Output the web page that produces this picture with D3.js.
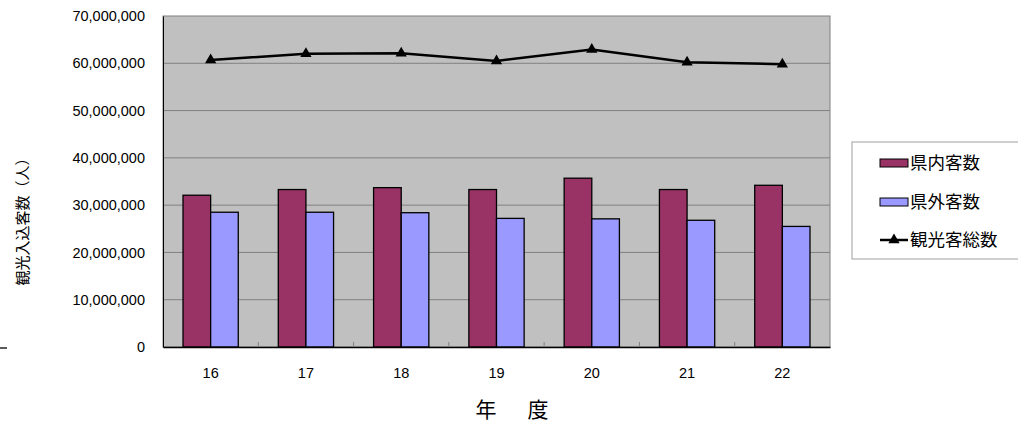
<!DOCTYPE html>
<html lang="ja">
<head>
  <meta charset="UTF-8">
  <title>観光入込客数</title>
  <style>
    body { margin: 0; background: #fff; }
    svg { display: block; font-family: "Liberation Sans", Arial, sans-serif; }
    .jp { font-family: "Noto Sans CJK JP", sans-serif; }
  </style>
</head>
<body>
  <svg id="chart" width="1018" height="423"></svg>
  <script src="https://d3js.org/d3.v7.min.js"></script>
  <script>
    const years = ['16', '17', '18', '19', '20', '21', '22'];
    const inPref = [32100000, 33300000, 33700000, 33300000, 35700000, 33300000, 34200000];
    const outPref = [28500000, 28500000, 28400000, 27200000, 27100000, 26800000, 25500000];
    const totals = [60700000, 62000000, 62100000, 60500000, 62900000, 60200000, 59800000];
    const yTicks = [0, 10000000, 20000000, 30000000, 40000000, 50000000, 60000000, 70000000];
    const seriesNames = ['県内客数', '県外客数', '観光客総数'];

    const margin = { top: 16, right: 188, bottom: 76, left: 163 };
    const width = 1018 - margin.left - margin.right;
    const height = 423 - margin.top - margin.bottom;

    const svg = d3.select('#chart');
    const g = svg.append('g')
      .attr('transform', `translate(${margin.left}, ${margin.top})`);

    const xScale = d3.scaleBand()
      .domain(years)
      .range([0, width]);

    const xInner = d3.scaleBand()
      .domain(['in', 'out'])
      .range([0, xScale.bandwidth() * 0.58])
      .padding(0);

    const yScale = d3.scaleLinear()
      .domain([0, 70000000])
      .range([height, 0]);

    // plot background
    g.append('rect')
      .attr('width', width)
      .attr('height', height)
      .attr('fill', '#c0c0c0')
      .attr('stroke', '#808080');

    // gridlines
    g.selectAll('.grid')
      .data(yTicks.slice(1, -1))
      .enter()
      .append('line')
      .attr('x1', 0)
      .attr('x2', width)
      .attr('y1', d => yScale(d))
      .attr('y2', d => yScale(d))
      .attr('stroke', '#808080');

    const offset = (xScale.bandwidth() - xInner.range()[1]) / 2;

    const groups = g.selectAll('.group')
      .data(years)
      .enter()
      .append('g')
      .attr('transform', d => `translate(${xScale(d) + offset}, 0)`);

    groups.append('rect')
      .attr('x', xInner('in'))
      .attr('width', xInner.bandwidth())
      .attr('y', (d, i) => yScale(inPref[i]))
      .attr('height', (d, i) => height - yScale(inPref[i]))
      .attr('fill', '#993366')
      .attr('stroke', '#000')
      .attr('stroke-width', 1.3);

    groups.append('rect')
      .attr('x', xInner('out'))
      .attr('width', xInner.bandwidth())
      .attr('y', (d, i) => yScale(outPref[i]))
      .attr('height', (d, i) => height - yScale(outPref[i]))
      .attr('fill', '#9999ff')
      .attr('stroke', '#000')
      .attr('stroke-width', 1.3);

    const line = d3.line()
      .x((d, i) => xScale(years[i]) + xScale.bandwidth() / 2)
      .y(d => yScale(d));

    g.append('path')
      .datum(totals)
      .attr('fill', 'none')
      .attr('stroke', '#000')
      .attr('stroke-width', 2.5)
      .attr('d', line);

    const tri = d3.symbol().type(d3.symbolTriangle).size(55);

    g.selectAll('.marker')
      .data(totals)
      .enter()
      .append('path')
      .attr('d', tri)
      .attr('transform', (d, i) => `translate(${xScale(years[i]) + xScale.bandwidth() / 2}, ${yScale(d)})`)
      .attr('fill', '#000');

    // y axis
    const yAxis = g.append('g')
      .attr('class', 'y-axis')
      .call(d3.axisLeft(yScale)
        .tickValues(yTicks)
        .tickSize(0)
        .tickPadding(18)
        .tickFormat(d3.format(',')));
    yAxis.select('.domain').attr('stroke', '#000');
    yAxis.selectAll('text')
      .attr('fill', '#000')
      .style('font-size', '14.5px')
      .style('font-family', '"Liberation Sans", Arial, sans-serif');

    // x axis
    const boundaries = years.slice(1).map(d => xScale(d));
    const xAxis = g.append('g')
      .attr('class', 'x-axis')
      .attr('transform', `translate(0, ${height})`)
      .call(d3.axisBottom(xScale).tickSize(0).tickPadding(21));
    xAxis.select('.domain').attr('stroke', '#000').attr('stroke-width', 1.3);
    xAxis.selectAll('text')
      .attr('fill', '#000')
      .style('font-size', '14.5px')
      .style('font-family', '"Liberation Sans", Arial, sans-serif');
    xAxis.selectAll('.boundary')
      .data(boundaries)
      .enter()
      .append('line')
      .attr('x1', d => d)
      .attr('x2', d => d)
      .attr('y1', 0)
      .attr('y2', -5)
      .attr('stroke', '#808080');

    // axis titles
    svg.append('text')
      .attr('class', 'jp')
      .attr('transform', 'rotate(-90)')
      .attr('x', -218)
      .attr('y', 28)
      .attr('text-anchor', 'middle')
      .attr('font-size', 15)
      .text('観光入込客数（人）');

    svg.selectAll('.x-title')
      .data(['年', '度'])
      .enter()
      .append('text')
      .attr('class', 'jp')
      .attr('x', (d, i) => [486, 538][i])
      .attr('y', 417)
      .attr('text-anchor', 'middle')
      .attr('font-size', 21)
      .text(d => d);

    svg.append('line')
      .attr('x1', 0)
      .attr('x2', 7)
      .attr('y1', 348)
      .attr('y2', 348)
      .attr('stroke', '#000')
      .attr('stroke-width', 1.3);

    // legend
    const legend = svg.append('g').attr('transform', 'translate(852, 142)');
    legend.append('rect')
      .attr('width', 170)
      .attr('height', 117)
      .attr('fill', '#fff')
      .attr('stroke', '#a0a0a0');

    const rowY = [21, 60, 98];
    const colors = ['#993366', '#9999ff'];
    colors.forEach((c, i) => {
      legend.append('rect')
        .attr('x', 28)
        .attr('y', rowY[i] - 4)
        .attr('width', 28)
        .attr('height', 8)
        .attr('fill', c)
        .attr('stroke', '#000');
    });
    legend.append('line')
      .attr('x1', 28).attr('x2', 56)
      .attr('y1', rowY[2]).attr('y2', rowY[2])
      .attr('stroke', '#000').attr('stroke-width', 2.5);
    legend.append('path')
      .attr('d', tri)
      .attr('transform', `translate(42, ${rowY[2]})`)
      .attr('fill', '#000');

    legend.selectAll('.label')
      .data(seriesNames)
      .enter()
      .append('text')
      .attr('class', 'jp')
      .attr('x', 58)
      .attr('y', (d, i) => rowY[i])
      .attr('dy', '0.36em')
      .attr('font-size', 17.5)
      .text(d => d);
  </script>
</body>
</html>
